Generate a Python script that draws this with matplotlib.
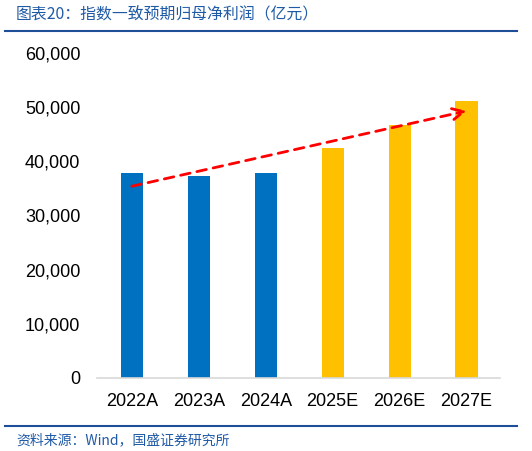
import matplotlib
matplotlib.use("Agg")
import matplotlib.pyplot as plt
from matplotlib.lines import Line2D

categories = ["2022A", "2023A", "2024A", "2025E", "2026E", "2027E"]
values = [37800, 37300, 37800, 42400, 46700, 51100]
colors = ["#0070C0", "#0070C0", "#0070C0", "#FFC000", "#FFC000", "#FFC000"]
yticks = [0, 10000, 20000, 30000, 40000, 50000, 60000]
ytick_labels = ["0", "10,000", "20,000", "30,000", "40,000", "50,000", "60,000"]
arrow_start = (0, 35400)
arrow_end = (5, 49300)
title = "图表20：指数一致预期归母净利润（亿元）"
source = "资料来源：Wind，国盛证券研究所"

W, H = 532, 451
fig = plt.figure(figsize=(W / 100, H / 100), dpi=100)
ax = fig.add_axes([97 / W, (H - 378) / H, (500 - 97) / W, (378 - 53) / H])

x = list(range(len(categories)))
ax.bar(x, values, width=0.33, color=colors, zorder=2)
ax.set_xlim(-0.52, 5.5)
ax.set_ylim(0, 60000)
ax.set_yticks(yticks)
ax.set_yticklabels(ytick_labels)
ax.set_xticks(x)
ax.set_xticklabels(categories)
for s in ["top", "right", "left"]:
    ax.spines[s].set_visible(False)
ax.spines["bottom"].set_color("#D9D9D9")
ax.spines["bottom"].set_linewidth(1.2)
ax.tick_params(axis="both", length=0, labelsize=13, colors="#000000")
ax.tick_params(axis="y", pad=12)
ax.tick_params(axis="x", pad=10.5)
for lab in ax.get_xticklabels() + ax.get_yticklabels():
    lab.set_family(["Liberation Sans", "DejaVu Sans"])

ax.annotate("", xy=arrow_end, xytext=arrow_start,
            arrowprops=dict(arrowstyle="->", color="#FF0000", lw=2,
                            linestyle=(0, (3.5, 2.5)), mutation_scale=20,
                            shrinkA=0, shrinkB=0), zorder=3)

fam = ["Noto Sans CJK SC", "DejaVu Sans"]
fig.text(16 / W, 1 - 14 / H, title, fontsize=11.4, color="#1F5AA6",
         style="italic", family=fam, va="center", ha="left")
fig.add_artist(Line2D([5 / W, 517 / W], [1 - 31 / H, 1 - 31 / H],
                      color="#1F4E99", lw=1.5))
fig.add_artist(Line2D([5 / W, 517 / W], [1 - 425.5 / H, 1 - 425.5 / H],
                      color="#1F4E99", lw=1.5))
fig.text(16 / W, 1 - 440 / H, source, fontsize=10, color="#1F5AA6",
         style="italic", family=fam, va="center", ha="left")

fig.savefig("out.png", dpi=100)
